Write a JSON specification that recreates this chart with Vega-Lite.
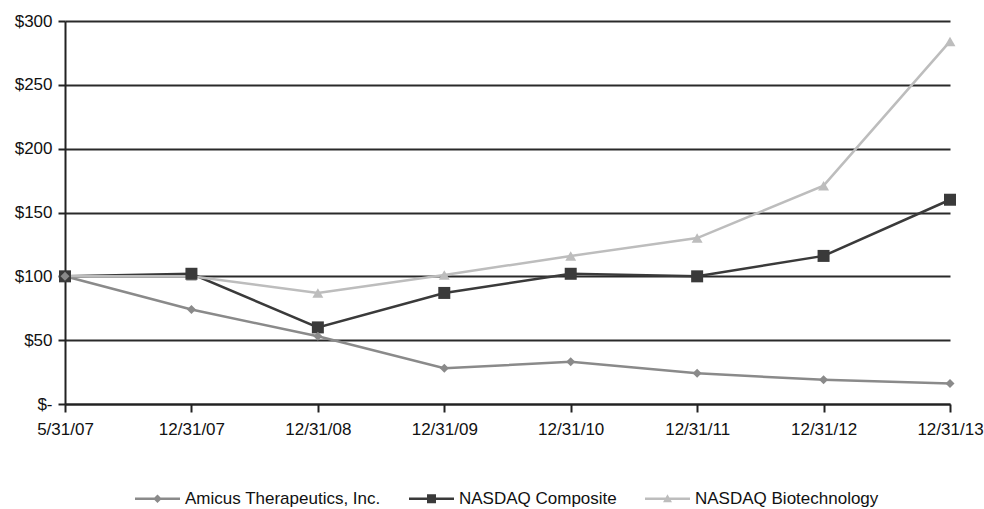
{
  "$schema": "https://vega.github.io/schema/vega-lite/v6.json",
  "width": 885,
  "height": 383,
  "autosize": {"type": "none"},
  "padding": {"left": 65, "top": 21, "right": 34, "bottom": 105},
  "background": "white",
  "config": {
    "view": {"stroke": null},
    "font": "Liberation Sans",
    "axis": {"labelFont": "Liberation Sans", "labelFontSize": 17, "labelColor": "#111"},
    "legend": {"labelFont": "Liberation Sans", "labelFontSize": 17, "labelColor": "#111", "labelLimit": 500}
  },
  "data": {
    "values": [
      {"series": "Amicus Therapeutics, Inc.", "date": "5/31/07", "value": 100},
      {"series": "Amicus Therapeutics, Inc.", "date": "12/31/07", "value": 74},
      {"series": "Amicus Therapeutics, Inc.", "date": "12/31/08", "value": 53},
      {"series": "Amicus Therapeutics, Inc.", "date": "12/31/09", "value": 28},
      {"series": "Amicus Therapeutics, Inc.", "date": "12/31/10", "value": 33},
      {"series": "Amicus Therapeutics, Inc.", "date": "12/31/11", "value": 24},
      {"series": "Amicus Therapeutics, Inc.", "date": "12/31/12", "value": 19},
      {"series": "Amicus Therapeutics, Inc.", "date": "12/31/13", "value": 16},
      {"series": "NASDAQ Composite", "date": "5/31/07", "value": 100},
      {"series": "NASDAQ Composite", "date": "12/31/07", "value": 102},
      {"series": "NASDAQ Composite", "date": "12/31/08", "value": 60},
      {"series": "NASDAQ Composite", "date": "12/31/09", "value": 87},
      {"series": "NASDAQ Composite", "date": "12/31/10", "value": 102},
      {"series": "NASDAQ Composite", "date": "12/31/11", "value": 100},
      {"series": "NASDAQ Composite", "date": "12/31/12", "value": 116},
      {"series": "NASDAQ Composite", "date": "12/31/13", "value": 160},
      {"series": "NASDAQ Biotechnology", "date": "5/31/07", "value": 100},
      {"series": "NASDAQ Biotechnology", "date": "12/31/07", "value": 100},
      {"series": "NASDAQ Biotechnology", "date": "12/31/08", "value": 87},
      {"series": "NASDAQ Biotechnology", "date": "12/31/09", "value": 101},
      {"series": "NASDAQ Biotechnology", "date": "12/31/10", "value": 116},
      {"series": "NASDAQ Biotechnology", "date": "12/31/11", "value": 130},
      {"series": "NASDAQ Biotechnology", "date": "12/31/12", "value": 171},
      {"series": "NASDAQ Biotechnology", "date": "12/31/13", "value": 284}
    ]
  },
  "encoding": {
    "x": {
      "field": "date", "type": "ordinal",
      "sort": ["5/31/07", "12/31/07", "12/31/08", "12/31/09", "12/31/10", "12/31/11", "12/31/12", "12/31/13"],
      "scale": {"type": "point", "padding": 0},
      "axis": {
        "title": null, "labelAngle": 0, "domainColor": "#222", "domainWidth": 2,
        "tickColor": "#222", "tickWidth": 2, "tickSize": 8, "labelPadding": 9, "grid": false
      }
    },
    "y": {
      "field": "value", "type": "quantitative",
      "scale": {"domain": [0, 300], "nice": false},
      "axis": {
        "title": null, "values": [0, 50, 100, 150, 200, 250, 300],
        "labelExpr": "datum.value == 0 ? '$-' : '$' + datum.value",
        "domainColor": "#222", "domainWidth": 2, "tickColor": "#222", "tickWidth": 2, "tickSize": 7,
        "labelPadding": 6, "grid": true, "gridColor": "#2a2a2a", "gridWidth": 2
      }
    },
    "color": {
      "field": "series", "type": "nominal",
      "scale": {
        "domain": ["Amicus Therapeutics, Inc.", "NASDAQ Composite", "NASDAQ Biotechnology"],
        "range": ["#8a8a8a", "#3a3a3a", "#bdbdbd"]
      },
      "legend": {
        "title": null, "orient": "none", "legendX": 70, "legendY": 455,
        "direction": "horizontal", "symbolSize": 2025, "symbolOpacity": 1,
        "symbolStrokeWidth": 0, "labelOffset": 5, "columnPadding": 28, "labelLimit": 500
      }
    }
  },
  "layer": [
    {
      "mark": {"type": "line", "strokeWidth": 2.5}
    },
    {
      "transform": [{"filter": "datum.series == 'NASDAQ Biotechnology'"}],
      "mark": {"type": "point", "shape": "triangle-up", "filled": true, "size": 120, "opacity": 1}
    },
    {
      "transform": [{"filter": "datum.series == 'NASDAQ Composite'"}],
      "mark": {"type": "point", "shape": "square", "filled": true, "size": 144, "opacity": 1}
    },
    {
      "transform": [{"filter": "datum.series == 'Amicus Therapeutics, Inc.'"}],
      "mark": {"type": "point", "shape": "diamond", "filled": true, "size": 81, "opacity": 1}
    },
    {
      "mark": {"type": "point", "filled": true, "opacity": 0},
      "encoding": {
        "shape": {
          "field": "series", "type": "nominal",
          "scale": {
            "domain": ["Amicus Therapeutics, Inc.", "NASDAQ Composite", "NASDAQ Biotechnology"],
            "range": [
              "M-1,-0.055H1V0.055H-1Z M0,-0.19L0.19,0L0,0.19L-0.19,0Z",
              "M-1,-0.055H1V0.055H-1Z M-0.2,-0.2H0.2V0.2H-0.2Z",
              "M-1,-0.055H1V0.055H-1Z M0,-0.2L0.2,0.16L-0.2,0.16Z"
            ]
          },
          "legend": {
            "title": null, "orient": "none", "legendX": 70, "legendY": 455,
            "direction": "horizontal", "symbolSize": 2025, "symbolOpacity": 1,
            "symbolStrokeWidth": 0, "labelOffset": 5, "columnPadding": 28, "labelLimit": 500
          }
        }
      }
    }
  ]
}
